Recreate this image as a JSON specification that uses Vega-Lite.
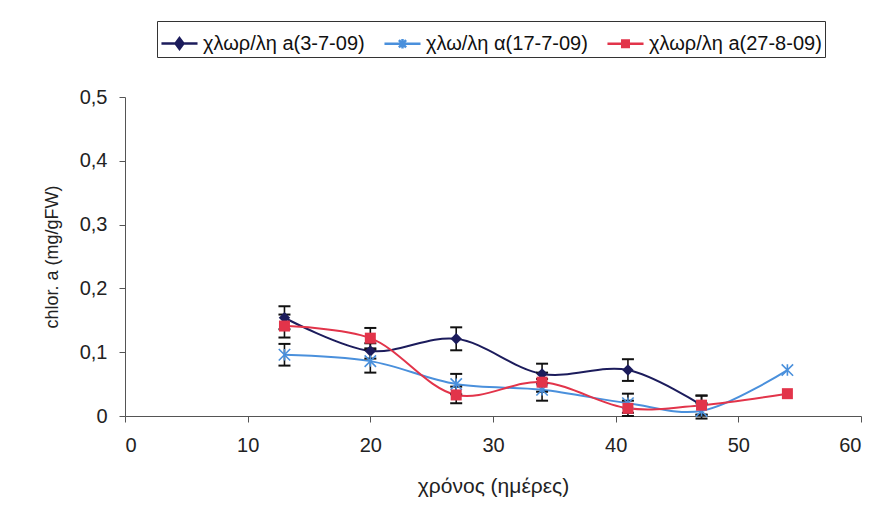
{
  "$schema": "https://vega.github.io/schema/vega-lite/v6.json",
  "autosize": {"type": "none"},
  "width": 736,
  "height": 319,
  "padding": {"left": 125, "top": 97, "right": 19, "bottom": 105},
  "background": "white",
  "config": {
    "font": "Liberation Sans",
    "view": {"stroke": null},
    "axis": {
      "grid": false,
      "domainColor": "#555555",
      "tickColor": "#555555",
      "labelColor": "#222222",
      "titleColor": "#222222",
      "labelFont": "Liberation Sans",
      "titleFont": "Liberation Sans",
      "labelFontSize": 20,
      "titleFontSize": 18,
      "titleFontWeight": "normal",
      "tickSize": 6
    }
  },
  "data": {
    "values": [
      {"day": 13, "series": "χλωρ/λη a(3-7-09)", "value": 0.154, "lo": 0.136, "hi": 0.172},
      {"day": 20, "series": "χλωρ/λη a(3-7-09)", "value": 0.102, "lo": 0.090, "hi": 0.114},
      {"day": 27, "series": "χλωρ/λη a(3-7-09)", "value": 0.121, "lo": 0.103, "hi": 0.139},
      {"day": 34, "series": "χλωρ/λη a(3-7-09)", "value": 0.066, "lo": 0.050, "hi": 0.082},
      {"day": 41, "series": "χλωρ/λη a(3-7-09)", "value": 0.072, "lo": 0.055, "hi": 0.089},
      {"day": 47, "series": "χλωρ/λη a(3-7-09)", "value": 0.017, "lo": 0.002, "hi": 0.032},
      {"day": 13, "series": "χλω/λη α(17-7-09)", "value": 0.096, "lo": 0.079, "hi": 0.113},
      {"day": 20, "series": "χλω/λη α(17-7-09)", "value": 0.086, "lo": 0.068, "hi": 0.104},
      {"day": 27, "series": "χλω/λη α(17-7-09)", "value": 0.050, "lo": 0.034, "hi": 0.066},
      {"day": 34, "series": "χλω/λη α(17-7-09)", "value": 0.041, "lo": 0.024, "hi": 0.058},
      {"day": 41, "series": "χλω/λη α(17-7-09)", "value": 0.020, "lo": 0.005, "hi": 0.035},
      {"day": 47, "series": "χλω/λη α(17-7-09)", "value": 0.008, "lo": -0.004, "hi": 0.020},
      {"day": 54, "series": "χλω/λη α(17-7-09)", "value": 0.072},
      {"day": 13, "series": "χλωρ/λη a(27-8-09)", "value": 0.141, "lo": 0.123, "hi": 0.159},
      {"day": 20, "series": "χλωρ/λη a(27-8-09)", "value": 0.122, "lo": 0.106, "hi": 0.138},
      {"day": 27, "series": "χλωρ/λη a(27-8-09)", "value": 0.033, "lo": 0.020, "hi": 0.046},
      {"day": 34, "series": "χλωρ/λη a(27-8-09)", "value": 0.053, "lo": 0.038, "hi": 0.068},
      {"day": 41, "series": "χλωρ/λη a(27-8-09)", "value": 0.012, "lo": 0.000, "hi": 0.024},
      {"day": 47, "series": "χλωρ/λη a(27-8-09)", "value": 0.017, "lo": 0.002, "hi": 0.032},
      {"day": 54, "series": "χλωρ/λη a(27-8-09)", "value": 0.035}
    ]
  },
  "layer": [
    {
      "mark": {"type": "line", "interpolate": "catmull-rom", "strokeWidth": 2},
      "encoding": {
        "x": {
          "field": "day", "type": "quantitative",
          "scale": {"domain": [0, 60], "nice": false},
          "axis": {"values": [0, 10, 20, 30, 40, 50, 60], "title": "χρόνος (ημέρες)", "titleFontSize": 21, "labelPadding": 13, "titlePadding": 20}
        },
        "y": {
          "field": "value", "type": "quantitative",
          "title": "chlor. a (mg/gFW)",
          "scale": {"domain": [0, 0.5], "nice": false},
          "axis": {
            "values": [0, 0.1, 0.2, 0.3, 0.4, 0.5],
            "labelExpr": "replace(format(datum.value, '.1~f'), '.', ',')",
            "labelPadding": 12,
            "titlePadding": 18
          }
        },
        "order": {"field": "day"},
        "color": {
          "field": "series", "type": "nominal",
          "scale": {
            "domain": ["χλωρ/λη a(3-7-09)", "χλω/λη α(17-7-09)", "χλωρ/λη a(27-8-09)"],
            "range": ["#1c1c5c", "#4a90dc", "#e2344a"]
          },
          "legend": {
            "title": null,
            "orient": "none",
            "legendX": 32,
            "legendY": -76,
            "direction": "horizontal",
            "columns": 3,
            "columnPadding": 14,
            "padding": 3,
            "strokeColor": "#333333",
            "fillColor": "white",
            "labelFont": "Liberation Sans",
            "labelFontSize": 20,
            "labelColor": "#111111",
            "labelOffset": 4,
            "labelLimit": 300,
            "symbolSize": 1300,
            "symbolStrokeWidth": 2.5,
            "encode": {
              "symbols": {
                "update": {
                  "shape": {"signal": "datum.value === 'χλωρ/λη a(3-7-09)' ? 'M-1,0L1,0M0,-0.3L0.22,0L0,0.3L-0.22,0Z' : datum.value === 'χλω/λη α(17-7-09)' ? 'M-1,0L1,0M-0.2,-0.2L0.2,0.2M-0.2,0.2L0.2,-0.2M0,-0.26L0,0.26' : 'M-1,0L1,0M-0.18,-0.18L0.18,-0.18L0.18,0.18L-0.18,0.18Z'"},
                  "fill": {"scale": "color", "field": "value"},
                  "stroke": {"scale": "color", "field": "value"},
                  "strokeWidth": {"value": 2.5},
                  "opacity": {"value": 1}
                }
              }
            }
          }
        }
      }
    },
    {
      "transform": [{"filter": "isValid(datum.lo)"}],
      "mark": {"type": "rule", "color": "#111111", "strokeWidth": 1.6, "opacity": 1},
      "encoding": {
        "x": {"field": "day", "type": "quantitative"},
        "y": {"field": "lo", "type": "quantitative", "title": "chlor. a (mg/gFW)"},
        "y2": {"field": "hi"}
      }
    },
    {
      "transform": [{"filter": "isValid(datum.lo)"}],
      "mark": {"type": "tick", "color": "#111111", "opacity": 1, "orient": "horizontal", "size": 12, "thickness": 2},
      "encoding": {
        "x": {"field": "day", "type": "quantitative"},
        "y": {"field": "lo", "type": "quantitative", "title": "chlor. a (mg/gFW)"}
      }
    },
    {
      "transform": [{"filter": "isValid(datum.hi)"}],
      "mark": {"type": "tick", "color": "#111111", "opacity": 1, "orient": "horizontal", "size": 12, "thickness": 2},
      "encoding": {
        "x": {"field": "day", "type": "quantitative"},
        "y": {"field": "hi", "type": "quantitative", "title": "chlor. a (mg/gFW)"}
      }
    },
    {
      "transform": [{"filter": "datum.series === 'χλωρ/λη a(3-7-09)'"}],
      "mark": {"type": "point", "shape": "diamond", "filled": true, "size": 130, "opacity": 1},
      "encoding": {
        "x": {"field": "day", "type": "quantitative"},
        "y": {"field": "value", "type": "quantitative"},
        "color": {"field": "series", "type": "nominal"}
      }
    },
    {
      "transform": [{"filter": "datum.series === 'χλω/λη α(17-7-09)'"}],
      "mark": {"type": "point", "shape": "M-1,-1L1,1M-1,1L1,-1M0,-1L0,1", "filled": false, "size": 130, "strokeWidth": 1.6, "opacity": 1},
      "encoding": {
        "x": {"field": "day", "type": "quantitative"},
        "y": {"field": "value", "type": "quantitative"},
        "color": {"field": "series", "type": "nominal"}
      }
    },
    {
      "transform": [{"filter": "datum.series === 'χλωρ/λη a(27-8-09)'"}],
      "mark": {"type": "point", "shape": "square", "filled": true, "size": 121, "opacity": 1},
      "encoding": {
        "x": {"field": "day", "type": "quantitative"},
        "y": {"field": "value", "type": "quantitative"},
        "color": {"field": "series", "type": "nominal"}
      }
    }
  ]
}
